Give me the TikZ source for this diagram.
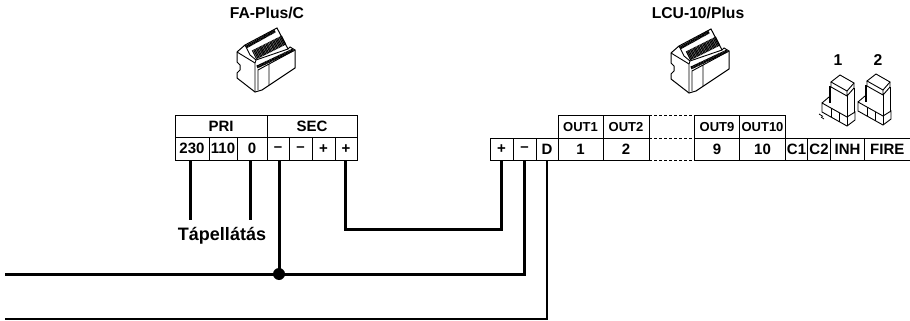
\documentclass[tikz,border=0pt]{standalone}
\usepackage{fontspec}
\setmainfont{Liberation Sans}
\usetikzlibrary{positioning}
\tikzset{
  cell/.style={draw,line width=1pt,minimum height=22.5pt,inner sep=0pt,outer sep=0pt,font=\bfseries\fontsize{15}{15}\selectfont},
  head/.style={cell,font=\bfseries\fontsize{13}{13}\selectfont},
  gapcell/.style={minimum height=22.5pt,minimum width=45.5pt,inner sep=0pt,outer sep=0pt},
  title/.style={font=\bfseries\fontsize{15.7}{15.7}\selectfont,inner sep=0pt},
  wire/.style={line width=3pt},
  thinwire/.style={line width=1.5pt},
  module/.pic={
    % body outline
    \draw[line width=1pt] (-22,-10) -- (-22,0) -- (-19,3) -- (-19,8) -- (-22,11) -- (-22,16) -- (-4,30) -- (3,28) -- (36,6) -- (36,-12) -- (31,-15) -- (29,-13) -- (18,-34) -- (-14,-17) -- cycle;
    \draw[line width=0.9pt] (-22,-10) -- (-4,1) -- (-4,30);
    \draw[line width=0.9pt] (-1,28) -- (-1,8) -- (36,-12) (10,23) -- (10,2);
    \draw[line width=0.9pt] (-14,-17) -- (-9,-7) -- (-3,-2) -- (29,-13) (-4,1) -- (-3,-2);
    % terminal strips
    \draw[line width=3pt,dash pattern=on 1pt off 0.4pt] (-13,-15) -- (16,-31);
    \draw[line width=10pt,dash pattern=on 1pt off 0.5pt] (-5,-7) -- (25,-22);
    \draw[line width=3pt,dash pattern=on 1pt off 0.4pt] (-2,5) -- (34,-12);
  },
  jumper/.pic={
    % cap
    \draw[line width=0.9pt] (-9,-18) -- (0,-25) -- (14,-17) -- (7,-9) -- cycle;
    \draw[line width=0.9pt] (-9,-18) -- (-9,-13) -- (7,-4) -- (14,-12) -- (14,-17) (7,-9) -- (7,-4);
    % body
    \draw[line width=2.4pt] (-10,-14) -- (-10,3);
    \draw[line width=0.9pt] (7,-4) -- (7,17) (14,-12) -- (14,12);
    % base
    \draw[line width=0.9pt] (-18,3) -- (-11,-3) (-18,3) -- (7,17) -- (15,12) -- (15,20) -- (7,26) -- (-18,12) -- cycle;
    \draw[line width=0.9pt] (7,17) -- (7,26) (-9,8) -- (-9,17) (-1,12.5) -- (-1,21.5);
  }
}
\begin{document}
\begin{tikzpicture}[x=1pt,y=-1pt]
  \useasboundingbox (0,0) rectangle (910,321);
  % FA-Plus/C terminals
  \node[cell,minimum width=92pt,anchor=north west](pri) at (175,115){PRI};
  \node[cell,minimum width=90pt](sec)[right=0pt of pri]{SEC};
  \node[cell,minimum width=34pt,anchor=north west](p230) at (pri.south west){230};
  \node[cell,minimum width=28pt](p110)[right=0pt of p230]{110};
  \node[cell,minimum width=30pt](p0)[right=0pt of p110]{0};
  \node[cell,minimum width=22pt](m1)[right=0pt of p0]{--};
  \node[cell,minimum width=23pt](m2)[right=0pt of m1]{--};
  \node[cell,minimum width=23pt](a1)[right=0pt of m2]{+};
  \node[cell,minimum width=22pt](a2)[right=0pt of a1]{+};
  % LCU-10/Plus terminals
  \node[cell,minimum width=23pt,anchor=north west](lp) at (490,138){+};
  \node[cell,minimum width=23pt](lm)[right=0pt of lp]{--};
  \node[cell,minimum width=22pt](ld)[right=0pt of lm]{D};
  \node[cell,minimum width=45pt](n1)[right=0pt of ld]{1};
  \node[cell,minimum width=46pt](n2)[right=0pt of n1]{2};
  \node[gapcell](ngap)[right=0pt of n2]{};
  \node[cell,minimum width=45pt](n9)[right=0pt of ngap]{9};
  \node[cell,minimum width=46pt](n10)[right=0pt of n9]{10};
  \node[cell,minimum width=22pt](c1)[right=0pt of n10]{C1};
  \node[cell,minimum width=23pt](c2)[right=0pt of c1]{C2};
  \node[cell,minimum width=34pt](inh)[right=0pt of c2]{INH};
  \node[cell,minimum width=45.5pt](fire)[right=0pt of inh]{FIRE};
  \node[head,minimum width=45pt](o1)[above=0pt of n1]{OUT1};
  \node[head,minimum width=46pt](o2)[above=0pt of n2]{OUT2};
  \node[gapcell](ogap)[above=0pt of ngap]{};
  \node[head,minimum width=45pt](o9)[above=0pt of n9]{OUT9};
  \node[head,minimum width=46pt](o10)[above=0pt of n10]{OUT10};
  \draw[line width=1pt,densely dashed] (ogap.north west) -- (ogap.north east)
    (ngap.north west) -- (ngap.north east) (ngap.south west) -- (ngap.south east);
  % titles
  \node[title](fatitle) at (267,13){FA-Plus/C};
  \node[title](lcutitle) at (698,13){LCU-10/Plus};
  \node[title](j1) at (838,60){1};
  \node[title](j2) at (878,60){2};
  \node[font=\bfseries\fontsize{18}{18}\selectfont,inner sep=0pt,anchor=base](power) at (222,240){Tápellátás};
  % devices
  \pic at (259,62) {module};
  \pic at (693,63) {module};
  \pic at (840,100) {jumper};
  \pic at (876,99) {jumper};
  \draw[line width=0.8pt] (819,114) -- (823,116.5) (821,117) -- (824,119);
  % wiring
  \coordinate (busL) at (5,274);
  \coordinate (dataL) at (5,319);
  \coordinate (joint) at (279,274);
  \coordinate (p230w) at (190,220);
  \coordinate (p0w) at (250,220);
  \coordinate (turn) at (345,229);
  \draw[wire] (p230.south-|p230w) -- (p230w);
  \draw[wire] (p0.south-|p0w) -- (p0w);
  \draw[wire] (m1.south-|joint) -- (joint);
  \draw[wire] (a2.south-|turn) -- (turn) -| (lp.south);
  \draw[wire] (busL) -- (joint) -| (lm.south);
  \draw[thinwire] (dataL) -| (ld.south);
  \fill (joint) circle (6pt);
\end{tikzpicture}
\end{document}
